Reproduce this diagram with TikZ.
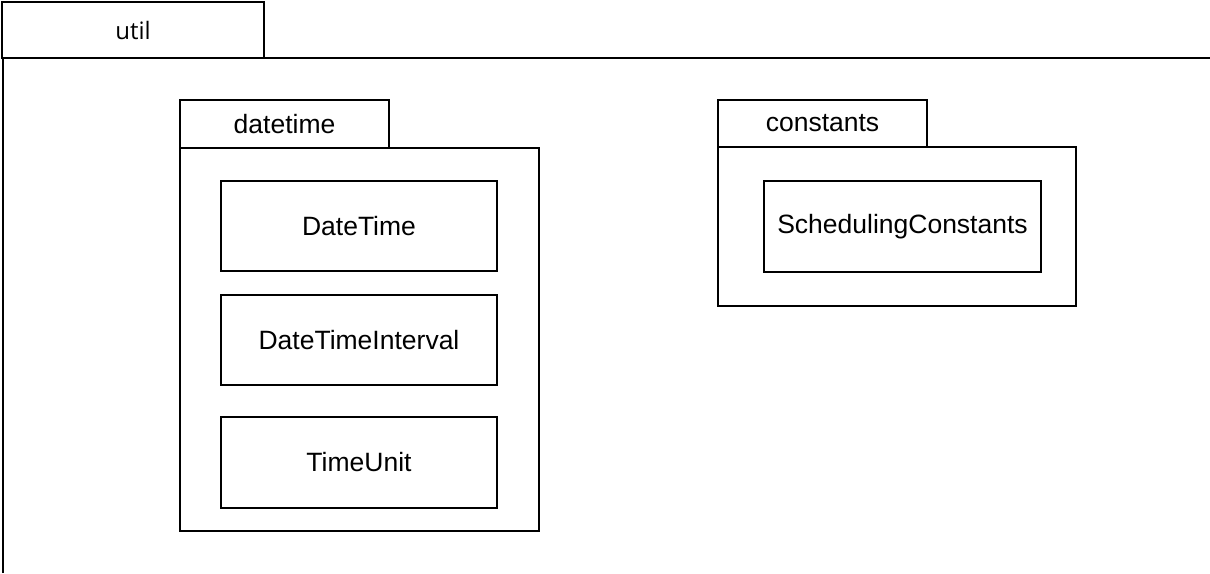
\documentclass[tikz,border=0pt]{standalone}
\usepackage{fontspec}
\setmainfont{Liberation Sans}
\newfontfamily\tabfont{Open Sans}
\begin{document}
\begin{tikzpicture}[x=1pt,y=-1pt,
  pkgtab/.style={draw, line width=2pt, inner sep=0pt, anchor=center,
    font=\fontsize{26.5}{30}\selectfont},
  pkgbody/.style={draw, line width=2pt, inner sep=0pt, anchor=center},
  classbox/.style={draw, line width=1.6pt, inner sep=0pt, anchor=center,
    minimum width=276pt, minimum height=90pt, font=\fontsize{26.5}{30}\selectfont}]
  \useasboundingbox (0,0) rectangle (1210,573);
  % outer package "util"
  \node[pkgtab, minimum width=262pt, minimum height=56pt,
        font=\tabfont\fontsize{24}{28}\selectfont] (util) at (133,30) {util};
  \coordinate (utilbl) at (3,573);
  \coordinate (utiltr) at (1210,58);
  \draw[line width=2pt] (utilbl) |- (utiltr);
  % package "datetime"
  \node[pkgtab, minimum width=209pt, minimum height=48pt] (dttab) at (284.5,124) {datetime};
  \node[pkgbody, minimum width=359pt, minimum height=383pt] (dtbody) at (359.5,339.5) {};
  \node[classbox] (datetime) at (359,226) {DateTime};
  \node[classbox] (interval) at (359,340) {DateTimeInterval};
  \node[classbox, minimum height=91pt] (timeunit) at (359,462.5) {TimeUnit};
  % package "constants"
  \node[pkgtab, minimum width=209pt, minimum height=47pt] (cttab) at (822.5,123.5) {constants};
  \node[pkgbody, minimum width=358pt, minimum height=159pt] (ctbody) at (897,226.5) {};
  \node[classbox, minimum width=277pt, minimum height=91pt] (sched) at (902.5,226.5) {SchedulingConstants};
\end{tikzpicture}
\end{document}
